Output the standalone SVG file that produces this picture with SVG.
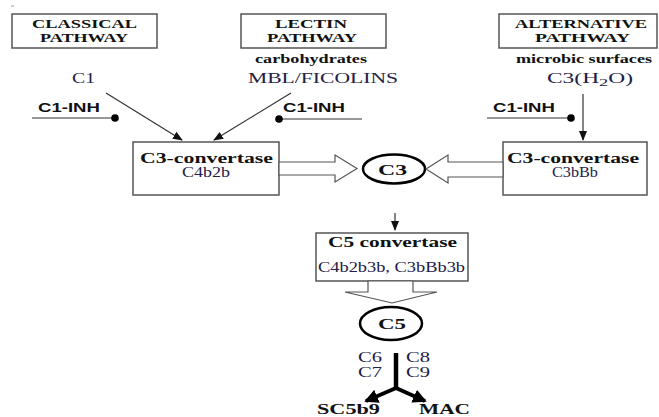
<svg xmlns="http://www.w3.org/2000/svg" width="659" height="417" viewBox="0 0 659 417">
<style>
.box{fill:#fff;stroke:#555;stroke-width:1.5}
.hd{font-family:"Liberation Serif",serif;font-weight:bold;font-size:13px;fill:#111}
.bs{font-family:"Liberation Serif",serif;font-weight:bold;font-size:12px;fill:#111}
.bl{font-family:"Liberation Serif",serif;font-weight:bold;font-size:15px;fill:#111}
.rg{font-family:"Liberation Serif",serif;font-size:14px;fill:#1e2048}
.inh{font-family:"Liberation Sans",sans-serif;font-weight:bold;font-size:12px;fill:#111}
.ln{stroke:#333;stroke-width:1.2;fill:none}
.blk{fill:#fff;stroke:#555;stroke-width:1.2}
.ell{fill:#fff;stroke:#000;stroke-width:2.5}
</style>
<defs>
<marker id="ah" markerWidth="10" markerHeight="10" refX="9" refY="5" orient="auto" markerUnits="userSpaceOnUse">
<path d="M0,1 L10,5 L0,9 Z" fill="#111"/>
</marker>
<marker id="big" markerWidth="14" markerHeight="14" refX="12" refY="7" orient="auto" markerUnits="userSpaceOnUse">
<path d="M0,0 L14,7 L0,14 Z" fill="#000"/>
</marker>
</defs>
<line x1="11" y1="6" x2="14" y2="6" stroke="#999" stroke-width="1"/>

<g id="classical">
<rect class="box" x="12" y="14" width="145" height="34"/>
<text class="hd" x="32" y="28" textLength="105" lengthAdjust="spacingAndGlyphs">CLASSICAL</text>
<text class="hd" x="40" y="42" textLength="88" lengthAdjust="spacingAndGlyphs">PATHWAY</text>
</g>
<g id="lectin">
<rect class="box" x="241" y="14" width="145" height="34"/>
<text class="hd" x="275" y="28" textLength="72" lengthAdjust="spacingAndGlyphs">LECTIN</text>
<text class="hd" x="267" y="42" textLength="90" lengthAdjust="spacingAndGlyphs">PATHWAY</text>
</g>
<g id="alternative">
<rect class="box" x="499" y="14" width="158" height="34"/>
<text class="hd" x="515" y="28" textLength="132" lengthAdjust="spacingAndGlyphs">ALTERNATIVE</text>
<text class="hd" x="535" y="42" textLength="95" lengthAdjust="spacingAndGlyphs">PATHWAY</text>
</g>

<g id="c1">
<text class="rg" x="72" y="83" textLength="23" lengthAdjust="spacingAndGlyphs">C1</text>
</g>
<g id="lectin-src">
<text class="bs" x="255" y="63" textLength="112" lengthAdjust="spacingAndGlyphs">carbohydrates</text>
<text class="rg" x="248" y="83" textLength="150" lengthAdjust="spacingAndGlyphs">MBL/FICOLINS</text>
</g>
<g id="alt-src">
<text class="bs" x="516" y="63" textLength="136" lengthAdjust="spacingAndGlyphs">microbic surfaces</text>
<text class="rg" x="547" y="83" font-size="15" textLength="86" lengthAdjust="spacingAndGlyphs">C3(H<tspan font-size="11" dy="3">2</tspan><tspan dy="-3">O)</tspan></text>
</g>

<g id="inh1">
<text class="inh" x="38" y="112" textLength="62" lengthAdjust="spacingAndGlyphs">C1-INH</text>
<line class="ln" x1="32" y1="118" x2="115" y2="118"/>
<circle cx="115" cy="118" r="3.8" fill="#000"/>
</g>
<g id="inh2">
<text class="inh" x="283" y="112" textLength="62" lengthAdjust="spacingAndGlyphs">C1-INH</text>
<line class="ln" x1="279" y1="119" x2="362" y2="119"/>
<circle cx="279" cy="119" r="3.8" fill="#000"/>
</g>
<g id="inh3">
<text class="inh" x="493" y="112" textLength="62" lengthAdjust="spacingAndGlyphs">C1-INH</text>
<line class="ln" x1="487" y1="118" x2="571" y2="118"/>
<circle cx="571" cy="118" r="3.8" fill="#000"/>
</g>

<g id="c3conv-left">
<rect class="box" x="133" y="142" width="146" height="53"/>
<text class="bl" x="140" y="163" textLength="133" lengthAdjust="spacingAndGlyphs">C3-convertase</text>
<text class="rg" x="182" y="177" font-size="12" textLength="48" lengthAdjust="spacingAndGlyphs">C4b2b</text>
</g>
<g id="c3conv-right">
<rect class="box" x="503" y="142" width="144" height="53"/>
<text class="bl" x="507" y="163" textLength="132" lengthAdjust="spacingAndGlyphs">C3-convertase</text>
<text class="rg" x="552" y="177" font-size="12" textLength="46" lengthAdjust="spacingAndGlyphs">C3bBb</text>
</g>
<g id="c3">
<ellipse class="ell" cx="394" cy="169" rx="31" ry="14.5"/>
<text class="bl" x="378" y="175" textLength="29" lengthAdjust="spacingAndGlyphs">C3</text>
</g>
<g id="c5conv">
<rect class="box" x="316" y="233" width="152" height="48"/>
<text class="bl" x="328" y="247" textLength="129" lengthAdjust="spacingAndGlyphs">C5 convertase</text>
<text class="rg" x="318" y="272" textLength="147" lengthAdjust="spacingAndGlyphs">C4b2b3b, C3bBb3b</text>
</g>
<g id="c5">
<ellipse class="ell" cx="391" cy="323.5" rx="31" ry="16.5"/>
<text class="bl" x="378" y="329" textLength="28" lengthAdjust="spacingAndGlyphs">C5</text>
</g>
<g id="mac-labels">
<text class="rg" x="358" y="362" textLength="24" lengthAdjust="spacingAndGlyphs">C6</text>
<text class="rg" x="358" y="377" textLength="24" lengthAdjust="spacingAndGlyphs">C7</text>
<text class="rg" x="406" y="362" textLength="24" lengthAdjust="spacingAndGlyphs">C8</text>
<text class="rg" x="406" y="377" textLength="24" lengthAdjust="spacingAndGlyphs">C9</text>
</g>
<g id="sc5b9">
<text class="bl" x="317" y="414" font-size="13" textLength="63" lengthAdjust="spacingAndGlyphs">SC5b9</text>
</g>
<g id="mac">
<text class="bl" x="419" y="414" font-size="13" textLength="51" lengthAdjust="spacingAndGlyphs">MAC</text>
</g>

<g id="connectors">
<line class="ln" x1="106" y1="93" x2="182" y2="140" marker-end="url(#ah)"/>
<line class="ln" x1="291" y1="93" x2="214" y2="140" marker-end="url(#ah)"/>
<line class="ln" x1="583" y1="94" x2="583" y2="140" marker-end="url(#ah)"/>
<line class="ln" x1="395" y1="213" x2="395" y2="230" marker-end="url(#ah)"/>
<polygon class="blk" points="279,162 335,162 335,155 357,168.5 335,182 335,175 279,175"/>
<polygon class="blk" points="503,162 448,162 448,155 426,169 448,183 448,177 503,177"/>
<polygon class="blk" points="368,281 368,292 345,292 392,303 437,292 413,292 413,281"/>
<path d="M396,353 L396,388" stroke="#000" stroke-width="4.5" fill="none"/>
<path d="M396,388 L366,401" stroke="#000" stroke-width="4" fill="none" marker-end="url(#big)"/>
<path d="M396,388 L425,401" stroke="#000" stroke-width="4" fill="none" marker-end="url(#big)"/>
</g>
</svg>
